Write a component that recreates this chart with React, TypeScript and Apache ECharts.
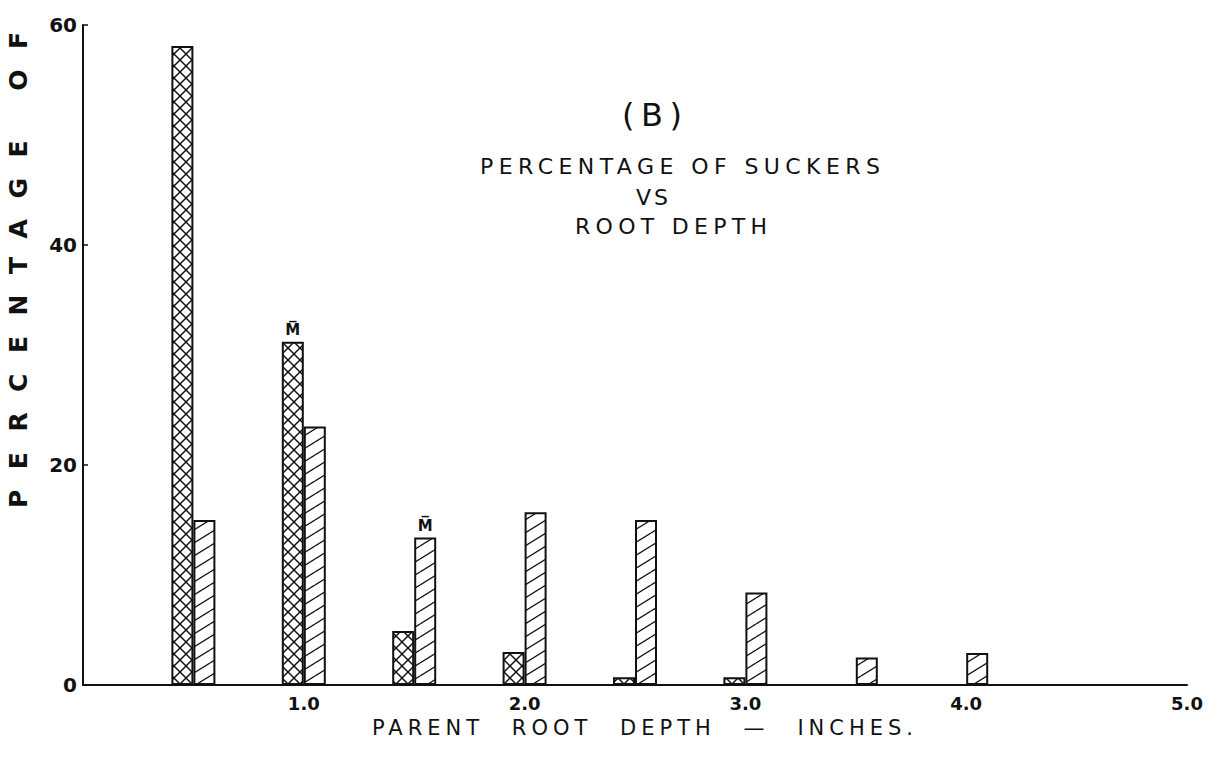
import React, { useEffect, useRef } from 'react';
import * as echarts from 'echarts';

// ---- data ----
const depthCategories = [0.5, 1.0, 1.5, 2.0, 2.5, 3.0, 3.5, 4.0];
const crossHatchedValues: (number | null)[] = [58.1, 31.2, 4.9, 3.0, 0.7, 0.7, null, null];
const diagonalHatchedValues: (number | null)[] = [15.0, 23.5, 13.4, 15.7, 15.0, 8.4, 2.5, 2.9];
const xTickLabels = [1, 2, 3, 4, 5];
const yTickValues = [0, 20, 40, 60];
const crossMeanDepth = 1.0;
const diagonalMeanDepth = 1.5;
const meanLabel = 'M\u0305';
const panelLabel = '(B)';
const titleLines = ['PERCENTAGE OF SUCKERS', 'VS', 'ROOT DEPTH'];
const xAxisTitle = 'PARENT ROOT DEPTH \u2014 INCHES.';
const yAxisTitle = 'PERCENTAGE OF';

const FONT = '"DejaVu Sans", "Noto Sans", sans-serif';
const INK = '#111';

type TextSpec = {
  text: string;
  x: number;
  y: number;
  size: number;
  weight: string;
  width: number;
  letter?: number;
  rotation?: number;
};

// layout of free texts: left edge, centre line, size, target width
const textLayout: TextSpec[] = [
  { text: panelLabel, x: 622, y: 115, size: 32, weight: 'normal', width: 60 },
  { text: titleLines[0], x: 480, y: 166, size: 22, weight: 'normal', width: 400 },
  { text: titleLines[1], x: 636, y: 197, size: 22, weight: 'normal', width: 32 },
  { text: titleLines[2], x: 575, y: 226, size: 22, weight: 'normal', width: 192 },
  { text: xAxisTitle, x: 372, y: 728, size: 21, weight: 'normal', width: 541, letter: 5 },
  { text: yAxisTitle, x: 18, y: 508, size: 25, weight: 'bold', width: 476, rotation: Math.PI / 2 },
];

function svgUrl(w: number, h: number, body: string) {
  const s = `<svg xmlns="http://www.w3.org/2000/svg" width="${w}" height="${h}" viewBox="0 0 ${w} ${h}"><rect width="${w}" height="${h}" fill="#fff"/>${body}</svg>`;
  return 'data:image/svg+xml;charset=utf-8,' + encodeURIComponent(s);
}

function crossPattern() {
  const w = 12, h = 12;
  let body = '';
  for (const k of [-1, 0, 1]) {
    const o = k * w;
    body += `<line x1="${o}" y1="0" x2="${o + w}" y2="${h}" stroke="${INK}" stroke-width="1.5"/>`;
    body += `<line x1="${o + w}" y1="0" x2="${o}" y2="${h}" stroke="${INK}" stroke-width="1.5"/>`;
  }
  return { image: svgUrl(w, h, body), repeat: 'repeat', imageWidth: w, imageHeight: h } as any;
}

function diagPattern() {
  const w = 21, h = 13;
  let body = '';
  for (const k of [-1, 0, 1]) {
    const o = k * h;
    body += `<line x1="0" y1="${h + o}" x2="${w}" y2="${o}" stroke="${INK}" stroke-width="1.3"/>`;
  }
  return { image: svgUrl(w, h, body), repeat: 'repeat', imageWidth: w, imageHeight: h } as any;
}

let measureCtx: CanvasRenderingContext2D | null = null;
function measure(text: string, size: number, weight: string) {
  if (!measureCtx) measureCtx = document.createElement('canvas').getContext('2d');
  if (!measureCtx) return 0;
  measureCtx.font = `${weight} ${size}px ${FONT}`;
  return measureCtx.measureText(text).width;
}

function applySpacing(root: HTMLElement) {
  const nodes = root.querySelectorAll('text');
  nodes.forEach((t) => {
    const spec = textLayout.find((s) => s.text === t.textContent);
    if (!spec) return;
    const L = measure(spec.text, spec.size, spec.weight);
    const n = spec.text.length;
    const spaces = spec.text.split(' ').length - 1;
    let ls: number;
    let ws = 0;
    if (spec.letter != null) {
      ls = spec.letter;
      if (spaces > 0) ws = Math.max(0, (spec.width - L - ls * (n - 1)) / spaces);
    } else {
      ls = Math.max(0, (spec.width - L) / (n - 1));
    }
    if (!isFinite(ls)) ls = 0;
    if (!isFinite(ws)) ws = 0;
    t.setAttribute('letter-spacing', ls.toFixed(2) + 'px');
    t.setAttribute('word-spacing', ws.toFixed(2) + 'px');
    (t as any).style.letterSpacing = ls.toFixed(2) + 'px';
    (t as any).style.wordSpacing = ws.toFixed(2) + 'px';
  });
}

function textEl(s: TextSpec) {
  return {
    type: 'text',
    x: s.x,
    y: s.y,
    rotation: s.rotation || 0,
    silent: true,
    style: {
      text: s.text,
      fontSize: s.size,
      fontFamily: FONT,
      fontWeight: s.weight,
      fill: INK,
      align: 'left',
      verticalAlign: 'middle',
      textAlign: 'left',
      textVerticalAlign: 'middle',
    },
  };
}

export default function App() {
  const ref = useRef<HTMLDivElement>(null);

  useEffect(() => {
    if (!ref.current) return;
    const chart = echarts.init(ref.current, undefined, { renderer: 'svg' });

    const meanLabelStyle = {
      show: true,
      position: 'top',
      distance: 4,
      formatter: meanLabel,
      fontFamily: FONT,
      fontWeight: 'bold',
      fontSize: 15,
      color: INK,
    };

    const crossData = depthCategories
      .map((d, i) => {
        const v = crossHatchedValues[i];
        if (v == null) return null;
        return d === crossMeanDepth ? { value: [d, v], label: meanLabelStyle } : { value: [d, v] };
      })
      .filter((x) => x != null);

    const diagData = depthCategories
      .map((d, i) => {
        const v = diagonalHatchedValues[i];
        if (v == null) return null;
        return d === diagonalMeanDepth ? { value: [d, v], label: meanLabelStyle } : { value: [d, v] };
      })
      .filter((x) => x != null);

    const option: any = {
      animation: false,
      backgroundColor: '#fff',
      grid: { left: 83, right: 37, top: 25, bottom: 75, containLabel: false },
      xAxis: {
        type: 'value',
        min: 0,
        max: 5,
        interval: 1,
        axisLine: { show: true, onZero: false, lineStyle: { color: INK, width: 2 } },
        axisTick: { show: false },
        splitLine: { show: false },
        axisLabel: {
          margin: 9,
          fontFamily: FONT,
          fontWeight: 'bold',
          fontSize: 18,
          color: INK,
          formatter: (v: number) =>
            xTickLabels.indexOf(Math.round(v)) >= 0 && Math.abs(v - Math.round(v)) < 1e-6 ? v.toFixed(1) : '',
        },
      },
      yAxis: {
        type: 'value',
        min: yTickValues[0],
        max: yTickValues[yTickValues.length - 1],
        interval: 20,
        axisLine: { show: true, lineStyle: { color: INK, width: 2 } },
        axisTick: { show: true, inside: true, length: 5, lineStyle: { color: INK, width: 1.5 } },
        splitLine: { show: false },
        axisLabel: {
          margin: 6,
          fontFamily: FONT,
          fontWeight: 'bold',
          fontSize: 20,
          color: INK,
        },
      },
      series: [
        {
          type: 'bar',
          name: 'cross',
          data: crossData,
          barWidth: 22,
          barGap: '0%',
          itemStyle: { color: crossPattern(), borderColor: INK, borderWidth: 2 },
          silent: true,
        },
        {
          type: 'bar',
          name: 'diag',
          data: diagData,
          barWidth: 22,
          barGap: '0%',
          itemStyle: { color: diagPattern(), borderColor: INK, borderWidth: 2 },
          silent: true,
        },
      ],
      graphic: textLayout.map(textEl),
    };

    chart.setOption(option);
    const el = ref.current;
    const fix = () => applySpacing(el);
    fix();
    chart.on('finished', fix);
    const t = setTimeout(fix, 50);

    return () => {
      clearTimeout(t);
      chart.dispose();
    };
  }, []);

  return (
    <div
      ref={ref}
      style={{ position: 'absolute', left: 0, top: 0, width: 1224, height: 760, background: '#fff' }}
    />
  );
}
